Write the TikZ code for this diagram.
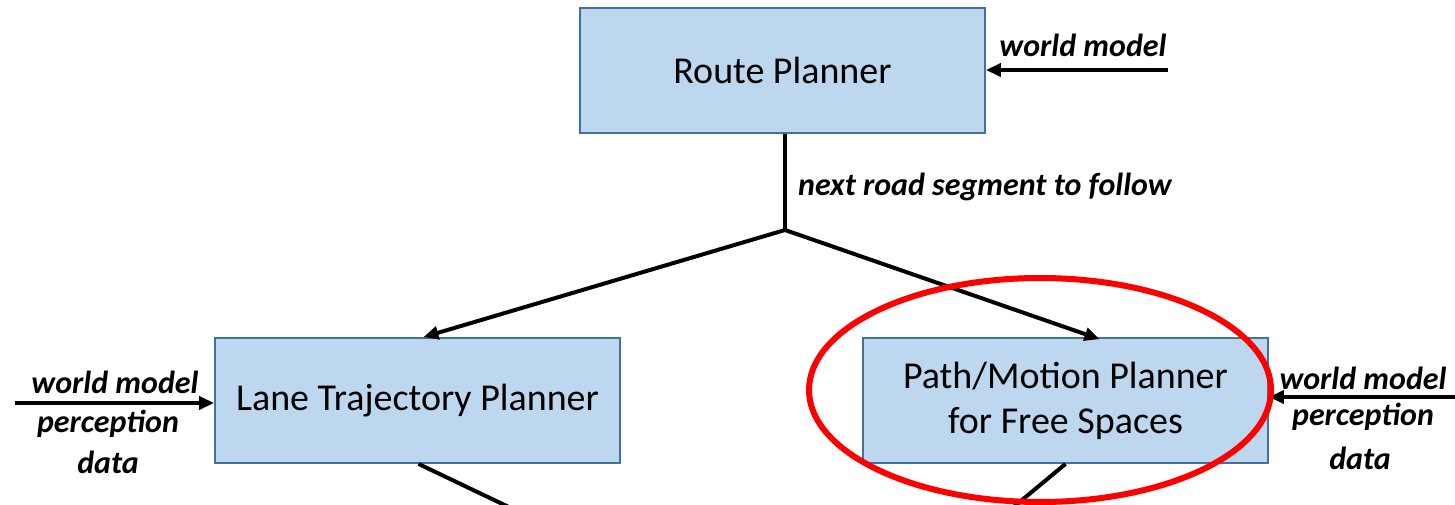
\documentclass[tikz,border=0pt]{standalone}
\usepackage{fontspec}
\setmainfont{Carlito}
\usetikzlibrary{arrows.meta,calc}
\definecolor{boxfill}{HTML}{BDD7EE}
\definecolor{boxline}{HTML}{41719C}
\tikzset{
  planner/.style={draw=boxline, line width=1.8pt, fill=boxfill, minimum width=405pt,
    minimum height=125pt, align=center, inner sep=0pt, font=\fontsize{38}{45}\selectfont},
  wire/.style={line width=4pt, draw=black},
  feed/.style={wire, -{Triangle[length=15pt,width=13pt]}},
  tag/.style={inner sep=0pt, font=\fontsize{32}{36}\selectfont\bfseries\itshape}
}
\begin{document}
\begin{tikzpicture}[x=1pt,y=-1pt]
\useasboundingbox (0,0) rectangle (1455,505);
\clip (0,0) rectangle (1455,505);

% planner blocks
\node[planner] (route) at (782.5,70.5) {Route Planner};
\node[planner] (lane) at (417.5,400.5) {Lane Trajectory Planner};
\node[planner] (path) at (1065.5,400.5) {Path/Motion Planner\\for Free Spaces};

% branching of the route output
\coordinate (j) at (785,230);
\draw[wire] (route.south -| j) -- (j);
\draw[feed] (j) -- ($(lane.north)+(6,0)$);
\draw[feed] (j) -- ($(path.north)+(34,2)$);
\node[tag, anchor=west] (seg) at (798,187) {next road segment to follow};

% outputs leaving downwards
\coordinate (laneout) at (515,510);
\coordinate (pathout) at (1010,510);
\draw[wire] ($(lane.south)+(1,0)$) -- (laneout);
\draw[wire] (path.south) -- (pathout);

% world model input of the route planner
\coordinate (rwin) at (1168,70);
\draw[feed] (rwin) -- (route.east |- rwin);
\node[tag] (rwm) at (1083,45) {world model};

% inputs of the lane trajectory planner
\coordinate (lin) at (15,403);
\draw[feed] (lin) -- (lane.west |- lin);
\node[tag] (lwm) at (115,382) {world model};
\node[tag] (lpd) at (108,424) {perception};
\node[tag] (lda) at (108,462) {data};

% inputs of the free space planner
\coordinate (rin) at (1455,397);
\draw[feed] (rin) -- (path.east |- rin);
\node[tag] (pwm) at (1363,378) {world model};
\node[tag] (ppd) at (1363,417) {perception};
\node[tag] (pda) at (1360,458) {data};

% highlight
\draw[red, line width=6pt] (1040,390) ellipse [x radius=231pt, y radius=112pt];
\end{tikzpicture}
\end{document}
